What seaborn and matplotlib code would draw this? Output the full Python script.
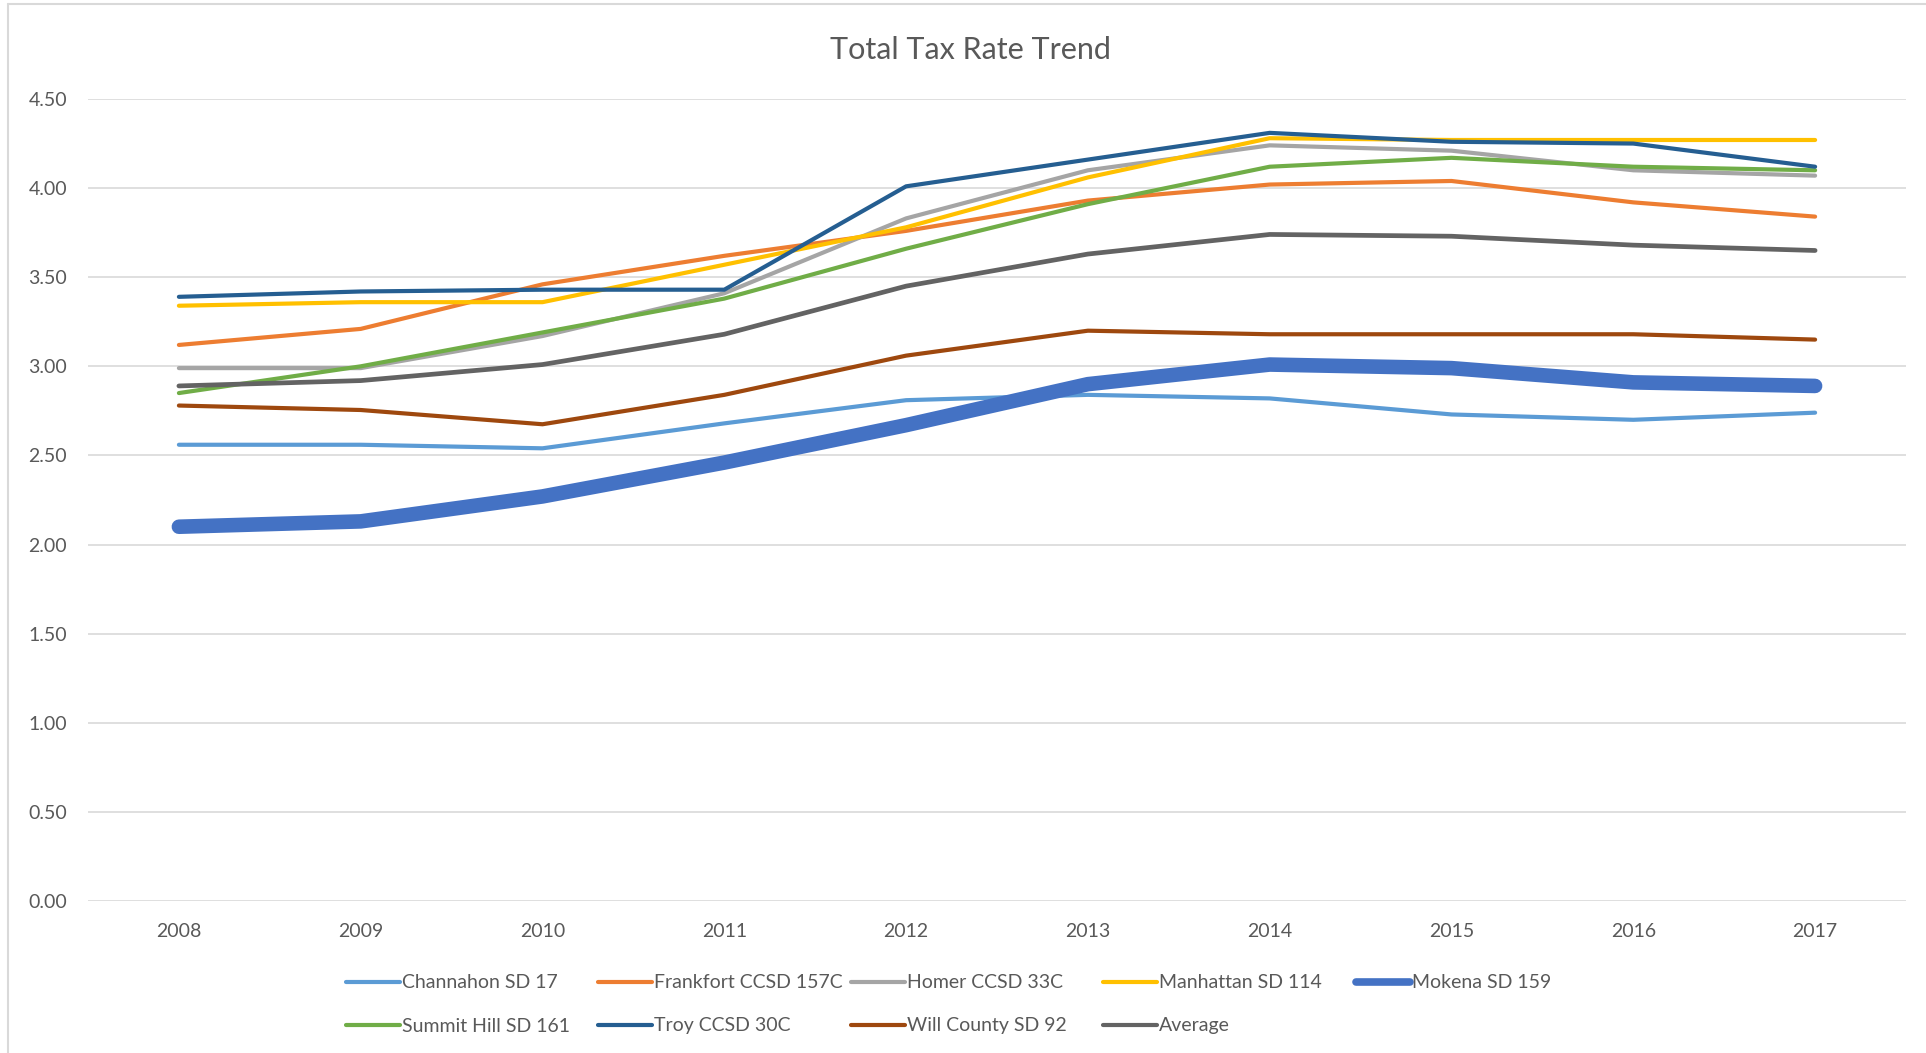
import numpy as np
import pandas as pd
import matplotlib
matplotlib.use("Agg")
import matplotlib.pyplot as plt
from matplotlib.lines import Line2D
import seaborn as sns

years = [2008, 2009, 2010, 2011, 2012, 2013, 2014, 2015, 2016, 2017]
channahon = [2.56, 2.56, 2.54, 2.68, 2.81, 2.84, 2.82, 2.73, 2.70, 2.74]
frankfort = [3.12, 3.21, 3.46, 3.62, 3.76, 3.93, 4.02, 4.04, 3.92, 3.84]
homer = [2.99, 2.99, 3.17, 3.41, 3.83, 4.10, 4.24, 4.21, 4.10, 4.07]
manhattan = [3.34, 3.36, 3.36, 3.57, 3.78, 4.06, 4.28, 4.27, 4.27, 4.27]
mokena = [2.10, 2.13, 2.27, 2.46, 2.67, 2.90, 3.01, 2.99, 2.91, 2.89]
summit = [2.85, 3.00, 3.19, 3.38, 3.66, 3.91, 4.12, 4.17, 4.12, 4.10]
troy = [3.39, 3.42, 3.43, 3.43, 4.01, 4.16, 4.31, 4.26, 4.25, 4.12]
will = [2.78, 2.755, 2.675, 2.84, 3.06, 3.20, 3.18, 3.18, 3.18, 3.15]
average = [2.89, 2.92, 3.01, 3.18, 3.45, 3.63, 3.74, 3.73, 3.68, 3.65]

names = ["Channahon SD 17", "Frankfort CCSD 157C", "Homer CCSD 33C", "Manhattan SD 114",
         "Mokena SD 159", "Summit Hill SD 161", "Troy CCSD 30C", "Will County SD 92", "Average"]
series = [channahon, frankfort, homer, manhattan, mokena, summit, troy, will, average]
colors = ["#5B9BD5", "#ED7D31", "#A5A5A5", "#FFC000", "#4472C4", "#70AD47", "#255E91", "#9E480E", "#636363"]
widths = [3.0, 3.0, 3.0, 3.0, 10.5, 3.0, 3.0, 3.0, 3.4]
yticks = [0.0, 0.5, 1.0, 1.5, 2.0, 2.5, 3.0, 3.5, 4.0, 4.5]

sns.set_theme(style="white")
plt.rcParams["font.family"] = ["Lato", "DejaVu Sans"]
TXT = "#595959"

W, H = 1926, 1053
fig = plt.figure(figsize=(W / 100, H / 100), dpi=100)
ax = fig.add_axes([88 / W, 1 - 901 / H, (1906 - 88) / W, (901 - 99) / H])

for name, vals, c, lw in zip(names, series, colors, widths):
    df = pd.DataFrame({"year": years, "rate": vals})
    sns.lineplot(data=df, x="year", y="rate", color=c, linewidth=lw, ax=ax,
                 estimator=None, sort=False, solid_capstyle="round", solid_joinstyle="round",
                 legend=False)

ax.set_xlim(years[0] - 0.5, years[-1] + 0.5)
ax.set_ylim(0, 4.5)
ax.set_yticks(yticks)
ax.set_yticklabels([f"{v:.2f}" for v in yticks])
ax.set_xticks(years)
ax.set_xticklabels([str(y) for y in years])
ax.set_xlabel("")
ax.set_ylabel("")
ax.grid(axis="y", color="#D9D9D9", linewidth=1.2)
ax.grid(axis="x", visible=False)
ax.set_axisbelow(True)
for s in ax.spines.values():
    s.set_visible(False)
ax.tick_params(axis="y", length=0, pad=15, labelsize=14, labelcolor=TXT)
ax.tick_params(axis="x", length=0, pad=16, labelsize=14, labelcolor=TXT)

fig.text(970 / W, 1 - 50 / H, "Total Tax Rate Trend", ha="center", va="center",
         fontsize=22, color=TXT)

# legend entries laid out like the Excel legend
col_x = [346, 598, 851, 1103, 1356]
row_y = [983, 1026]
order = [(0, 0), (0, 1), (0, 2), (0, 3), (0, 4), (1, 0), (1, 1), (1, 2), (1, 3)]
for (r, cidx), name, c, lw in zip(order, names, colors, widths):
    h = Line2D([0], [0], color=c, linewidth=5.5 if lw > 4 else 3.0,
               solid_capstyle="round")
    fig.legend(handles=[h], labels=[name], loc="center left",
               bbox_to_anchor=(col_x[cidx] / W, 1 - row_y[r] / H),
               frameon=False, borderpad=0, borderaxespad=0, handlelength=2.8,
               handletextpad=0.1, fontsize=14, labelcolor=TXT)

# chart border
fig.add_artist(Line2D([7.5 / W, 7.5 / W], [0, 1 - 3.5 / H], transform=fig.transFigure,
                      color="#D9D9D9", linewidth=1.5))
fig.add_artist(Line2D([7.5 / W, 1], [1 - 3.5 / H, 1 - 3.5 / H], transform=fig.transFigure,
                      color="#D9D9D9", linewidth=1.5))

fig.savefig("out.png", dpi=100, facecolor="white")
